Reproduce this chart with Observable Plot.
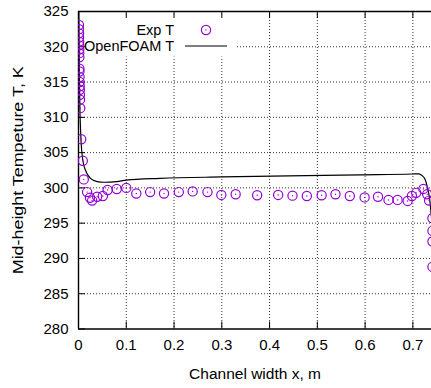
<!DOCTYPE html>
<html>
<head>
<meta charset="utf-8">
<script src="https://cdn.jsdelivr.net/npm/d3@7"></script>
<script src="https://cdn.jsdelivr.net/npm/@observablehq/plot@0.6"></script>
<style>
  html, body { margin: 0; padding: 0; background: white; }
  #chart svg { display: block; }
</style>
</head>
<body>
<div id="chart"></div>
<script>
// ---- data ----
const xTicks = [0, 0.1, 0.2, 0.3, 0.4, 0.5, 0.6, 0.7];
const yTicks = [280, 285, 290, 295, 300, 305, 310, 315, 320, 325];
const xLabel = "Channel width x, m";
const yLabel = "Mid-height Tempeture T, K";
const seriesNames = ["Exp T", "OpenFOAM T"];

const expX = [0.001, 0.001, 0.0012, 0.0012, 0.0014, 0.0014, 0.0016, 0.0016, 0.0018, 0.002, 0.002, 0.0022, 0.0024, 0.0026, 0.0028, 0.003, 0.0032, 0.0036,
  0.0056, 0.009, 0.011, 0.018, 0.024, 0.0285, 0.039, 0.051, 0.061, 0.080, 0.100, 0.121, 0.150, 0.179, 0.210, 0.239, 0.270, 0.299, 0.329, 0.374, 0.418, 0.448,
  0.478, 0.509, 0.538, 0.568, 0.599, 0.627, 0.649, 0.668, 0.689, 0.698, 0.707, 0.722, 0.730, 0.734, 0.741, 0.741, 0.741, 0.741];
const expT = [323.1, 322.5, 321.9, 321.3, 320.7, 320.2, 319.6, 319.1, 318.5, 316.9, 316.5, 315.7, 315.0, 314.4, 313.9, 313.2, 312.5, 311.3,
  306.9, 303.85, 301.2, 299.4, 298.6, 298.2, 298.75, 298.85, 299.7, 299.84, 300.0, 299.2, 299.4, 299.2, 299.4, 299.5, 299.4, 299.0, 299.1, 298.95, 299.0, 298.9,
  298.85, 298.95, 299.1, 298.85, 298.65, 298.75, 298.3, 298.3, 298.15, 298.85, 299.3, 299.85, 299.1, 298.2, 295.7, 293.9, 292.4, 288.8];

const foamX = [0.0003, 0.001, 0.002, 0.003, 0.004, 0.0056, 0.009, 0.0146, 0.025, 0.039, 0.053, 0.08, 0.1, 0.17, 0.3, 0.44, 0.59, 0.7, 0.712, 0.72, 0.725, 0.73, 0.735, 0.74];
const foamT = [330, 322, 315, 311, 308.8, 306.3, 303.95, 302.5, 301.35, 300.9, 300.8, 300.9, 301.1, 301.35, 301.55, 301.7, 301.85, 301.97, 302.0, 301.7, 301.3, 300.2, 298.5, 295];

const expData = expX.map((x, i) => ({x, T: expT[i]}));
const foamData = foamX.map((x, i) => ({x, T: foamT[i]}));

// ---- layout ----
const W = 431, H = 388;
const mL = 78, mR = 0, mT = 11, mB = 59.5;
const plotW = W - mL - mR, plotH = H - mT - mB;
const violet = "#9400d3";
const font = "'Liberation Sans', Arial, sans-serif";

const chart = Plot.plot({
  width: W, height: H,
  marginLeft: mL, marginRight: mR, marginTop: mT, marginBottom: mB,
  style: {fontFamily: font, fontSize: "15px", background: "white", color: "black"},
  x: {domain: [0, 0.739]},
  y: {domain: [280, 325]},
  marks: [
    Plot.gridX(xTicks.slice(1), {stroke: "black", strokeOpacity: 0.8, strokeDasharray: "1,2"}),
    Plot.gridY(yTicks.slice(1, -1), {stroke: "black", strokeOpacity: 0.8, strokeDasharray: "1,2"}),
    // legend box (opaque)
    Plot.frame({fill: "white", stroke: "none", insetLeft: 3, insetTop: 3, insetRight: W - 236, insetBottom: plotH - 45}),
    // inward ticks
    Plot.ruleX(xTicks, {insetTop: plotH - 7, stroke: "black"}),
    Plot.ruleX(xTicks, {insetBottom: plotH - 7, stroke: "black"}),
    Plot.ruleY(yTicks, {insetRight: plotW - 7, stroke: "black"}),
    // frame
    Plot.ruleX([0], {stroke: "black", strokeWidth: 1.4}),
    Plot.ruleY([280, 325], {stroke: "black", strokeWidth: 1.4}),
    // data
    Plot.line(foamData, {x: "x", y: "T", stroke: "black", strokeWidth: 1.2, curve: "monotone-x", clip: true}),
    Plot.dot(expData, {x: "x", y: "T", r: 4.6, stroke: violet, strokeWidth: 1.2, clip: true}),
    Plot.dot(expData, {x: "x", y: "T", r: 0.7, fill: violet, stroke: "none", clip: true}),
    // axes
    Plot.axisX(xTicks, {tickSize: 0, tickPadding: 10, label: null, fontSize: 15, tickFormat: d => String(d)}),
    Plot.axisY(yTicks, {tickSize: 0, tickPadding: 10, label: null, fontSize: 15}),
    Plot.text([xLabel], {frameAnchor: "bottom", dy: 45.5, text: d => d, fontSize: 15.5, textAnchor: "middle", lineAnchor: "middle"}),
    Plot.text([yLabel], {frameAnchor: "left", dx: -60, rotate: -90, text: d => d, fontSize: 15, textAnchor: "middle", lineAnchor: "middle"})
  ]
});
document.getElementById("chart").appendChild(chart);

const svg = d3.select(chart);
// stretch the vertical title lengthwise (reference image is vertically stretched)
svg.selectAll("text").filter(function() { return this.textContent === yLabel; })
  .attr("textLength", 208).attr("lengthAdjust", "spacingAndGlyphs");

// ---- legend ----
const g = svg.append("g").attr("font-family", font).attr("font-size", 14.5);
const rows = [
  {name: seriesNames[0], y: 30, kind: "point"},
  {name: seriesNames[1], y: 46, kind: "line"}
];
rows.forEach(r => {
  g.append("text").attr("x", 174).attr("y", r.y).attr("dy", "0.35em").attr("text-anchor", "end").text(r.name);
  if (r.kind === "point") {
    g.append("circle").attr("cx", 206).attr("cy", r.y).attr("r", 4.6).attr("fill", "none").attr("stroke", violet).attr("stroke-width", 1.2);
    g.append("circle").attr("cx", 206).attr("cy", r.y).attr("r", 0.7).attr("fill", violet);
  } else {
    g.append("line").attr("x1", 185).attr("x2", 227).attr("y1", r.y).attr("y2", r.y).attr("stroke", "black").attr("stroke-width", 1.2);
  }
});
</script>
</body>
</html>
